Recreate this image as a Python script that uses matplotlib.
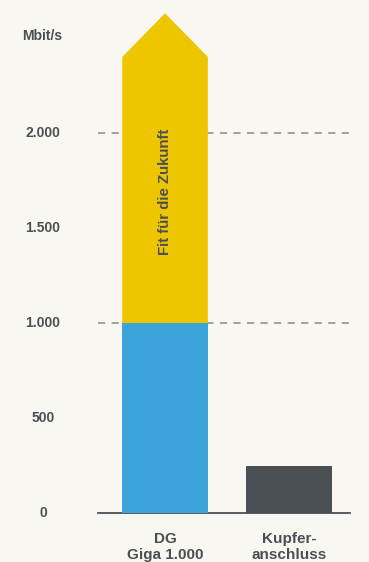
import matplotlib
matplotlib.use("Agg")
import matplotlib.pyplot as plt
from matplotlib.patches import Polygon
from matplotlib.transforms import blended_transform_factory

categories = ["DG\nGiga 1.000", "Kupfer-\nanschluss"]
base_values = [1000, 250]
future_top = 2400      # shoulder of the yellow arrow
future_tip = 2630      # tip of the yellow arrow
yticks = [0, 500, 1000, 1500, 2000]
ytick_labels = ["0", "500", "1.000", "1.500", "2.000"]
grid_values = [1000, 2000]
unit_label = "Mbit/s"
arrow_label = "Fit für die Zukunft"

BG = "#F8F7F1"
TEXT = "#4B4F54"
BLUE = "#3DA3DC"
YELLOW = "#EDC600"
DARK = "#4A4F53"
GRID = "#9A9A9A"

plt.rcParams['font.family'] = ['Liberation Sans', 'DejaVu Sans']

W, H = 369, 562
fig = plt.figure(figsize=(W / 100, H / 100), dpi=100, facecolor=BG)
ax = fig.add_axes([98 / W, (H - 513) / H, (350 - 98) / W, 513 / H])
ax.set_facecolor(BG)
ax.set_xlim(-0.54, 1.49)
ax.set_ylim(0, 2700)

width = 0.69
x = list(range(len(categories)))

for g in grid_values:
    ax.axhline(g, color=GRID, lw=1.3, ls=(0, (4, 3.5)), zorder=1)

ax.bar(x[0], base_values[0], width=width, color=BLUE, zorder=3)
ax.bar(x[1], base_values[1], width=width, color=DARK, zorder=3)

x0 = x[0]
poly = Polygon([(x0 - width / 2, base_values[0]), (x0 + width / 2, base_values[0]),
                (x0 + width / 2, future_top), (x0, future_tip),
                (x0 - width / 2, future_top)], closed=True, color=YELLOW, lw=0, zorder=3)
ax.add_patch(poly)

ax.text(x0, (base_values[0] + future_top) / 2 - 10, arrow_label, rotation=90,
        ha='center', va='center', fontsize=10.8, fontweight='bold', color=TEXT, zorder=4)

for s in ['top', 'right', 'left']:
    ax.spines[s].set_visible(False)
ax.spines['bottom'].set_color(TEXT)
ax.spines['bottom'].set_linewidth(1.3)
ax.set_yticks([])
ax.set_xticks([])

trans = blended_transform_factory(fig.transFigure, ax.transData)
for v, lab in zip(yticks, ytick_labels):
    ax.text(43 / W, v, lab, transform=trans, ha='center', va='center',
            fontsize=10, fontweight='bold', color=TEXT)

fig.text(42 / W, 1 - 36 / H, unit_label, ha='center', va='center',
         fontsize=10, fontweight='bold', color=TEXT)

xtrans = blended_transform_factory(ax.transData, fig.transFigure)
for xi, lab in zip(x, categories):
    ax.text(xi, 1 - 547 / H, lab, transform=xtrans,
            ha='center', va='center', fontsize=11, fontweight='bold', color=TEXT,
            linespacing=1.2)

fig.savefig("out.png", dpi=100, facecolor=BG)
